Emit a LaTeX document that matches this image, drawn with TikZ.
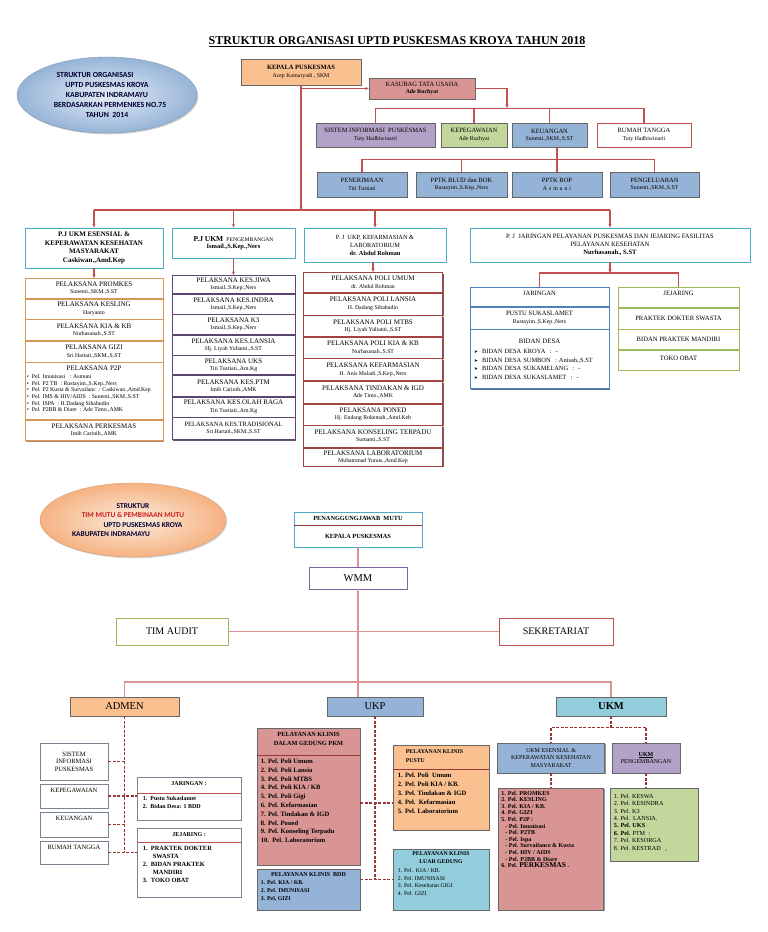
\documentclass[tikz,border=0pt]{standalone}
\usepackage{fontspec}
\setmainfont{Liberation Serif}
\setsansfont{Carlito}
\newfontfamily\simbol{DejaVu Sans}
\usetikzlibrary{arrows.meta,positioning,shapes.geometric,shadows}
\definecolor{garismerah}{RGB}{192,80,77}
\definecolor{merahtua}{RGB}{150,55,53}
\definecolor{merahteks}{RGB}{200,30,30}
\definecolor{oranye}{RGB}{250,192,144}
\definecolor{mawar}{RGB}{217,149,148}
\definecolor{ungu}{RGB}{179,162,199}
\definecolor{hijau}{RGB}{195,214,155}
\definecolor{biru}{RGB}{149,179,215}
\definecolor{toska}{RGB}{146,205,220}
\definecolor{tepitoska}{RGB}{75,172,198}
\definecolor{tepiungu}{RGB}{128,100,162}
\definecolor{tepihijau}{RGB}{155,187,89}
\definecolor{tepibiru}{RGB}{79,129,189}
\definecolor{tepioranye}{RGB}{215,150,90}
\definecolor{tepiabu}{RGB}{120,130,145}
\definecolor{elipsdalam}{RGB}{228,236,246}
\definecolor{elipsluar}{RGB}{150,180,215}
\definecolor{persikdalam}{RGB}{253,236,222}
\definecolor{persikluar}{RGB}{245,178,130}
\newcommand{\uk}[2]{\fontsize{#1}{#2}\selectfont}
\newcommand{\nama}[1]{{\uk{5.8}{6.5}#1}}
\newcommand{\panahkecil}{{\simbol\uk{4.6}{5}➤}}
\tikzset{
  judul/.style={font=\uk{12}{14}\bfseries},
  kotak/.style={draw=black!60, fill=white, align=center, inner sep=1pt,
    line width=0.6pt, font=\uk{6.5}{7.4}},
  ukuran/.style 2 args={minimum width=#1, minimum height=#2},
  bayang/.style={drop shadow={shadow xshift=1.3pt, shadow yshift=-1.3pt,
    fill=#1, opacity=.8}},
  bayang/.default={black!50},
  atas/.style={text depth=#1},
  atas/.default=7pt,
  elips/.style={ellipse, align=center, inner sep=0pt, text=black!80!blue},
  kepkol/.style={kotak, draw=tepitoska, line width=0.9pt, bayang={black!65}},
  kol1/.style={kotak, draw=tepioranye, bayang={tepioranye!75!black},
    minimum width=138, font=\uk{7}{7.2}},
  kol2/.style={kotak, draw=tepiungu!70!black, bayang={tepiungu!50!black},
    minimum width=123, font=\uk{7}{7.2}},
  kol3/.style={kotak, draw=garismerah!85!black, bayang={garismerah!55!black},
    minimum width=139, font=\uk{7}{7.2}},
  kol4a/.style={kotak, draw=tepibiru, bayang={tepibiru!55!black},
    minimum width=139, font=\uk{6.6}{7.2}},
  kol4b/.style={kotak, draw=tepihijau, bayang={tepihijau!55!black},
    minimum width=121, font=\uk{6.6}{7.2}},
  daftar/.style={align=left, inner sep=0pt, anchor=north west},
  garis/.style={draw=garismerah, line width=1.1pt},
  panah/.style={garis, -{Stealth[length=3.5pt, width=3pt]}},
  garismuda/.style={draw=mawar, line width=1.3pt},
  putus/.style={draw=merahtua, line width=1.1pt, dash pattern=on 3pt off 1.5pt}
}
\begin{document}
\begin{tikzpicture}[x=1pt,y=-1pt]
\useasboundingbox[fill=white] (0,0) rectangle (768,932);

% ---------- struktur organisasi ----------
\node[judul] (judul) at (397,42) {\underline{STRUKTUR ORGANISASI UPTD PUSKESMAS KROYA TAHUN 2018}};
\node[elips, minimum width=180, minimum height=76, inner color=elipsdalam, outer color=elipsluar,
  draw=elipsluar!85!black, bayang={black!25}, font=\sffamily\bfseries\uk{7.8}{10}] (elips1) at (107,95)
  {STRUKTUR ORGANISASI\hspace*{24pt}\\UPTD PUSKESMAS KROYA\\KABUPATEN INDRAMAYU\\
   \hspace*{6pt}BERDASARKAN PERMENKES NO.75\\TAHUN\ \ 2014};

\node[kotak, bayang, fill=oranye, ukuran={120}{26}] (kepala) at (301,72)
  {\textbf{KEPALA PUSKESMAS}\\\nama{Acep Komaryadi , SKM}};
\node[kotak, bayang, fill=mawar, ukuran={106}{21}] (kasubag) at (422,88.5)
  {KASUBAG TATA USAHA\\\textbf{\nama{Ade Ruchyat}}};

\node[kotak, bayang, fill=ungu, ukuran={119}{24}] (sip) at (375.5,135)
  {SISTEM INFORMASI\ \ PUSKESMAS\\\nama{Tuty Hadhiwinarti}};
\node[kotak, bayang, fill=hijau, ukuran={66}{24}] (kepeg) at (474,135)
  {KEPEGAWAIAN\\\nama{Ade Ruchyat}};
\node[kotak, bayang, fill=biru, ukuran={75}{24}] (keu) at (549.5,135)
  {KEUANGAN\\\nama{Sunenti.,SKM.,S.ST}};
\node[kotak, bayang, draw=garismerah, ukuran={94}{24}] (rt) at (644,135)
  {RUMAH TANGGA\\\nama{Tuty Hadhiwinarti}};

\node[kotak, bayang, fill=biru, ukuran={90}{25}] (terima) at (362,184.5)
  {PENERIMAAN\\\nama{Titi Tustiati}};
\node[kotak, bayang, fill=biru, ukuran={91}{25}] (blud) at (461.5,184.5)
  {PPTK BLUD dan BOK\\\nama{Rustayim.,S.Kep.,Ners}};
\node[kotak, bayang, fill=biru, ukuran={90}{25}] (bop) at (557,184.5)
  {PPTK BOP\\\nama{A\,\,s\,\,m\,\,u\,\,n\,\,i}};
\node[kotak, bayang, fill=biru, ukuran={89}{25}] (keluar) at (654.5,184.5)
  {PENGELUARAN\\\nama{Sunenti.,SKM.,S.ST}};

\draw[panah] (kepala.south |- kasubag.west) -- (kasubag.west);
\coordinate (tu) at (507,108);
\draw[panah] (kasubag.east) -| (tu);
\draw[garis] (sip.north) -- ++(0,-14) -| (rt.north);
\draw[garis] (kepeg.north) -- ++(0,-14);
\draw[garis] (keu.north) -- ++(0,-14);
\draw[garis] (bop.north |- keu.south) -- (bop.north);
\draw[garis] (terima.north) -- ++(0,-12) -| (keluar.north);
\draw[garis] (blud.north) -- ++(0,-12);

% penanggung jawab
\node[kepkol, ukuran={138}{40}, font=\bfseries\uk{7}{8.4}] (pj1) at (94,248)
  {P.J UKM ESENSIAL \&\\KEPERAWATAN KESEHATAN\\MASYARAKAT\\Caskiwan.,Amd.Kep};
\node[kepkol, ukuran={123}{30}] (pj2) at (233.5,243)
  {{\bfseries\uk{7.5}{8}P.J UKM}\ \ {\uk{5.6}{6}PENGEMBANGAN}\\\textbf{Ismail.,S.Kep.,Ners}};
\node[kepkol, ukuran={142}{34}, font=\uk{6.3}{8}] (pj3) at (375,245)
  {P. J\ \ UKP, KEFARMASIAN \&\\LABORATORIUM\\\textbf{dr. Abdul Rohman}};
\node[kepkol, ukuran={280}{34}, font=\uk{6.6}{8}] (pj4) at (610,245)
  {P. J\ \ JARINGAN PELAYANAN PUSKESMAS DAN JEJARING FASILITAS\\PELAYANAN KESEHATAN\\\textbf{Nurhasanah., S.ST}};

\coordinate (bus1) at (0,210);
\draw[panah] (kepala.south) -- (kepala.south |- bus1);
\draw[garis] (pj1.north |- bus1) -- (pj4.north |- bus1);
\draw[panah] (pj1.north |- bus1) -- (pj1.north);
\draw[panah] (pj2.north |- bus1) -- (pj2.north);
\draw[panah] (pj3.north |- bus1) -- (pj3.north);
\draw[panah] (pj4.north |- bus1) -- (pj4.north);

% kolom 1
\node[kol1, minimum height=20, anchor=north] (promkes) at (94,278) {PELAKSANA PROMKES\\\nama{Sunenti.,SKM.,S.ST}};
\node[kol1, minimum height=20, below=0pt of promkes] (kesling) {PELAKSANA KESLING\\\nama{Haryanto}};
\node[kol1, minimum height=21, below=0pt of kesling] (kia1) {PELAKSANA KIA \& KB\\\nama{Nurhasanah.,S.ST}};
\node[kol1, minimum height=21, below=0pt of kia1] (gizi) {PELAKSANA GIZI\\\nama{Sri Hartati.,SKM.,S.ST}};
\node[kol1, minimum height=57, below=0pt of gizi] (p2p) {};
\node[font=\uk{7}{7.2}, inner sep=0pt, anchor=north] (p2pjudul) at ([yshift=-3.5pt]p2p.north) {PELAKSANA P2P};
\node[daftar, font=\uk{5.8}{6.6}] (p2pisi) at ([xshift=2pt,yshift=-12pt]p2p.north west)
  {\textbullet\ \ Pel. Imunisasi\ \ \ : Asmuni\\
   \textbullet\ \ Pel. P2 TB\ \ : Rustayim.,S.Kep.,Ners\\
   \textbullet\ \ Pel. P2 Kusta \& Survailanc\ \ : Caskiwan.,Amd.Kep\\
   \textbullet\ \ Pel. IMS \& HIV/AIDS\ \ : Sunenti.,SKM.,S.ST\\
   \textbullet\ \ Pel. ISPA\ \ : H.Dadang Sihabudin\\
   \textbullet\ \ Pel. P2BB \& Diare\ \ : Ade Timo.,AMK};
\node[kol1, minimum height=20, below=0pt of p2p] (perkesmas) {PELAKSANA PERKESMAS\\\nama{Imih Carinih.,AMK}};
\draw[panah] (pj1.south) -- (promkes.north);

% kolom 2
\node[kol2, minimum height=18, anchor=north] (jiwa) at (233.5,275) {PELAKSANA KES.JIWA\\\nama{Ismail.,S.Kep.,Ners}};
\node[kol2, minimum height=20, below=0pt of jiwa] (indra) {PELAKSANA KES.INDRA\\\nama{Ismail.,S.Kep.,Ners}};
\node[kol2, minimum height=20, below=0pt of indra] (k3) {PELAKSANA K3\\\nama{Ismail.,S.Kep.,Ners}};
\node[kol2, minimum height=20, below=0pt of k3] (lansia) {PELAKSANA KES.LANSIA\\\nama{Hj. Liyah Yulianti.,S.ST}};
\node[kol2, minimum height=19, below=0pt of lansia] (uks) {PELAKSANA UKS\\\nama{Titi Tustiati.,Am.Kg}};
\node[kol2, minimum height=21, below=0pt of uks] (ptm) {PELAKSANA KES.PTM\\\nama{Imih Carinih.,AMK}};
\node[kol2, minimum height=20, below=0pt of ptm] (olahraga) {PELAKSANA KES.OLAH RAGA\\\nama{Titi Tustiati.,Am.Kg}};
\node[kol2, minimum height=22, below=0pt of olahraga] (tradisional) {{\uk{6.5}{7}PELAKSANA KES.TRADISIONAL}\\\nama{Sri Hartati.,SKM.,S.ST}};
\draw[panah] (pj2.south) -- (jiwa.north);

% kolom 3
\node[kol3, minimum height=20, anchor=north] (poliumum) at (373,272) {PELAKSANA POLI UMUM\\\nama{dr. Abdul Rohman}};
\node[kol3, minimum height=22, below=0pt of poliumum] (polilansia) {PELAKSANA POLI LANSIA\\\nama{H. Dadang Sihabudin}};
\node[kol3, minimum height=21, below=0pt of polilansia] (mtbs) {PELAKSANA POLI MTBS\\\nama{Hj. Liyah Yulianti.,S.ST}};
\node[kol3, minimum height=21, below=0pt of mtbs] (polikia) {PELAKSANA POLI KIA \& KB\\\nama{Nurhasanah.,S.ST}};
\node[kol3, minimum height=22, below=0pt of polikia] (farmasi) {PELAKSANA KEFARMASIAN\\\nama{H. Anis Maladi.,S.Kep.,Ners}};
\node[kol3, minimum height=22, below=0pt of farmasi] (tindakan) {PELAKSANA TINDAKAN \& IGD\\\nama{Ade Timo.,AMK}};
\node[kol3, minimum height=21, below=0pt of tindakan] (poned) {PELAKSANA PONED\\\nama{Hj. Endang Rokemah.,Amd.Keb}};
\node[kol3, minimum height=22, below=0pt of poned] (konseling) {PELAKSANA KONSELING TERPADU\\\nama{Sumanti.,S.ST}};
\node[kol3, minimum height=18, below=0pt of konseling] (lab) {PELAKSANA LABORATORIUM\\\nama{Muhammad Yunus.,Amd.Kep}};
\draw[panah] (poliumum.north |- pj3.south) -- (poliumum.north);

% kolom 4
\node[kol4a, minimum height=19, atas, anchor=north] (jaringan) at (539.5,287) {JARINGAN};
\node[kol4a, minimum height=22, below=0pt of jaringan] (pustu) {PUSTU SUKASLAMET\\\nama{Rustayim.,S.Kep.,Ners}};
\node[kol4a, minimum height=59, below=0pt of pustu, text width=131, align=left, font=\uk{6.4}{8.6}] (bidan)
  {\makebox[131pt]{\uk{6.8}{8}BIDAN DESA}\\[2pt]
   \panahkecil\ \ BIDAN DESA KROYA\ \ :\ \ -\\
   \panahkecil\ \ BIDAN DESA SUMBON\ \ : Anisah.,S.ST\\
   \panahkecil\ \ BIDAN DESA SUKAMELANG\ \ :\ \ -\\
   \panahkecil\ \ BIDAN DESA SUKASLAMET\ \ :\ \ -};
\node[kol4b, minimum height=20, atas, anchor=north] (jejaring) at (678.5,287) {JEJARING};
\node[kol4b, minimum height=21, below=0pt of jejaring] (dokter) {PRAKTEK DOKTER SWASTA};
\node[kol4b, minimum height=20, below=0pt of dokter] (bpm) {BIDAN PRAKTEK MANDIRI};
\node[kol4b, minimum height=20, atas=3pt, below=0pt of bpm] (toko) {TOKO OBAT};
\coordinate (bus4) at (0,273);
\draw[panah] (pj4.south) -- (pj4.south |- bus4);
\draw[garis] (jaringan.north) -- (jaringan.north |- bus4) -- (jejaring.north |- bus4) -- (jejaring.north);

% ---------- tim mutu ----------
\node[elips, minimum width=186, minimum height=74, inner color=persikdalam, outer color=persikluar,
  draw=persikluar!90!black, bayang={black!20}, font=\sffamily\bfseries\uk{7.4}{9.4}] (elips2) at (133,520)
  {STRUKTUR\\\textcolor{merahteks}{TIM MUTU \& PEMBINAAN MUTU}\\\hspace*{20pt}UPTD PUSKESMAS KROYA\\
   KABUPATEN INDRAMAYU\hspace*{44pt}};

\node[kotak, draw=tepitoska, line width=0.9pt, bayang={black!55}, ukuran={128}{35}] (pj) at (358,529.5) {};
\node[font=\bfseries\uk{6.3}{7}, inner sep=0pt] (pjmutu) at ([yshift=-6.5pt]pj.north) {PENANGGUNGJAWAB\ \ MUTU};
\node[font=\bfseries\uk{6.3}{7}, inner sep=0pt] (pjkepala) at ([yshift=11pt]pj.south) {KEPALA PUSKESMAS};
\draw[draw=merahtua, line width=1pt] (pj.west |- 0,525) -- (pj.east |- 0,525);

\node[kotak, draw=tepiungu, bayang={black!55}, ukuran={98}{22}, font=\uk{10.5}{12}] (wmm) at (358,578) {WMM};
\node[kotak, draw=tepihijau, line width=0.9pt, bayang={black!55}, ukuran={112}{27}, font=\uk{10}{12}] (audit) at (172,631.5) {TIM AUDIT};
\node[kotak, draw=garismerah, line width=0.9pt, bayang={black!55}, ukuran={114}{27}, font=\uk{10}{12}] (sekretariat) at (556,631.5) {SEKRETARIAT};

\node[kotak, bayang, fill=oranye, ukuran={109}{19}, font=\uk{10.5}{12}] (admen) at (124.5,706.5) {ADMEN};
\node[kotak, bayang, fill=biru, ukuran={96}{19}, font=\uk{10.5}{12}] (ukp) at (375,706.5) {UKP};
\node[kotak, bayang, fill=toska, ukuran={110}{19}, font=\bfseries\uk{10.5}{12}] (ukm) at (611,706.5) {UKM};

\coordinate (bus2) at (0,682);
\draw[garismuda] (pj.south) -- (wmm.north);
\draw[garismuda] (wmm.south) -- (wmm.south |- ukp.north);
\draw[garismuda] (audit.east) -- (sekretariat.west);
\draw[garismuda] (admen.north) -- (admen.north |- bus2) -- (ukm.north |- bus2) -- (ukm.north);

% admen
\node[kotak, draw=tepiabu, bayang={black!45}, ukuran={68}{37}, font=\uk{6.5}{7.6}] (sim2) at (74,761.5) {SISTEM\\INFORMASI\\PUSKESMAS};
\node[kotak, draw=tepiabu, bayang={black!45}, ukuran={68}{24}, atas=12pt] (kepeg2) at (74,796) {KEPEGAWAIAN};
\node[kotak, draw=tepiabu, bayang={black!45}, ukuran={68}{25}, atas=12pt] (keu2) at (74,824.5) {KEUANGAN};
\node[kotak, draw=tepiabu, bayang={black!45}, ukuran={68}{23}, atas=11pt] (rt2) at (74,852.5) {RUMAH TANGGA};

\node[kotak, draw=tepiabu, bayang={black!50}, ukuran={104}{43}] (jar2) at (189,798.5) {};
\node[font=\bfseries\uk{6}{7}, inner sep=0pt] (jar2judul) at ([yshift=-7pt]jar2.north) {JARINGAN :};
\draw[draw=garismerah, line width=0.8pt] (jar2.west |- 0,793) -- (jar2.east |- 0,793);
\node[daftar, font=\bfseries\uk{6}{8}] (jar2isi) at ([xshift=6pt,yshift=-19pt]jar2.north west)
  {1.\ \ Pustu Sukaslamet\\2.\ \ Bidan Desa: 1 BDD};
\node[kotak, draw=tepiabu, bayang={black!50}, ukuran={104}{69}] (jej2) at (189,862.5) {};
\node[font=\bfseries\uk{6}{7}, inner sep=0pt] (jej2judul) at ([yshift=-7pt]jej2.north) {JEJARING :};
\draw[draw=garismerah, line width=0.8pt] (jej2.west |- 0,842) -- (jej2.east |- 0,842);
\node[daftar, font=\bfseries\uk{6.4}{8}] (jej2isi) at ([xshift=6pt,yshift=-18pt]jej2.north west)
  {1.\ \ PRAKTEK DOKTER\\\hspace*{10pt}SWASTA\\2.\ \ BIDAN PRAKTEK\\\hspace*{10pt}MANDIRI\\3.\ \ TOKO OBAT};

\draw[putus] (admen.south) -- ++(0,137);
\draw[putus] (sim2.east) -- (sim2.east -| admen.south);
\draw[putus] (kepeg2.east) -- (kepeg2.east -| jar2.west);
\draw[putus] (keu2.east) -- (keu2.east -| admen.south);
\draw[putus] (rt2.east) -- (rt2.east -| jej2.west);

% ukp
\node[kotak, bayang, fill=mawar, ukuran={103}{137}] (dalam) at (308.5,796.5) {};
\node[font=\bfseries\uk{6.3}{9}, align=center, inner sep=0pt, anchor=north] (dalamjudul) at ([yshift=-4pt]dalam.north)
  {PELAYANAN KLINIS\\DALAM GEDUNG PKM};
\draw[draw=merahtua, line width=0.8pt] (dalam.west |- 0,755) -- (dalam.east |- 0,755);
\node[daftar, font=\bfseries\uk{6.6}{8.8}] (dalamisi) at ([xshift=4pt,yshift=-31pt]dalam.north west)
  {1. Pel. Poli Umum\\2. Pel. Poli Lansia\\3. Pel. Poli MTBS\\4. Pel. Poli KIA / KB\\5. Pel. Poli Gigi\\
   6. Pel. Kefarmasian\\7. Pel. Tindakan \& IGD\\8. Pel. Poned\\9. Pel. Konseling Terpadu\\10.\ \ Pel. Laboratorium};
\node[kotak, bayang, fill=biru, ukuran={103}{41}] (bdd) at (308.5,889.5) {};
\node[font=\bfseries\uk{6}{7}, inner sep=0pt, anchor=north] (bddjudul) at ([yshift=-4pt]bdd.north) {PELAYANAN KLINIS\ \ BDD};
\node[daftar, font=\bfseries\uk{5.8}{7.6}] (bddisi) at ([xshift=4pt,yshift=-12pt]bdd.north west)
  {1. Pel. KIA / KB.\\2. Pel. IMUNISASI\\3. Pel, GIZI};

\node[kotak, bayang, fill=oranye, ukuran={96}{85}] (pustu2) at (441,787.5) {};
\node[daftar, font=\bfseries\uk{5.8}{8.5}] (pustujudul) at ([xshift=13pt,yshift=-5pt]pustu2.north west) {PELAYANAN KLINIS\\PUSTU};
\draw[draw=merahtua, line width=0.8pt] (pustu2.west |- 0,769) -- (pustu2.east |- 0,769);
\node[daftar, font=\bfseries\uk{6.6}{9}] (pustuisi) at ([xshift=5pt,yshift=-28pt]pustu2.north west)
  {1. Pel. Poli\ \ Umum\\2. Pel. Poli KIA / KB.\\3. Pel. Tindakan \& IGD\\4. Pel.\ \ Kefarmasian\\5. Pel. Laboratorium};
\node[kotak, bayang, fill=toska, ukuran={96}{61}] (luar) at (441,879.5) {};
\node[font=\bfseries\uk{5.8}{8}, align=center, inner sep=0pt, anchor=north] (luarjudul) at ([yshift=-3pt]luar.north)
  {PELAYANAN KLINIS\\LUAR GEDUNG};
\node[daftar, font=\uk{5.8}{7.5}] (luarisi) at ([xshift=5pt,yshift=-20pt]luar.north west)
  {1. Pel.\ \ KIA / KB.\\2. Pel. IMUNISASI\\3. Pel. Kesehatan GIGI\\4. Pel. GIZI};

\draw[putus] (ukp.south) -- (ukp.south |- luar.west);
\draw[putus] (dalam.east |- 0,803) -- (pustu2.west |- 0,803);
\draw[putus] (bdd.east |- luar.west) -- (luar.west);

% ukm
\node[kotak, bayang, fill=biru, ukuran={107}{30}, font=\uk{6}{7.5}] (esensial) at (551,758)
  {UKM ESENSIAL \&\\KEPERAWATAN KESEHATAN\\MASYARAKAT};
\node[kotak, bayang, fill=ungu, ukuran={68}{30}, font=\uk{6}{7.5}] (kembang) at (646,758)
  {\underline{\textbf{UKM}}\\PENGEMBANGAN};
\node[kotak, bayang, fill=mawar, ukuran={105}{122}] (merah) at (551,849) {};
\node[daftar, font=\bfseries\uk{6}{6.6}] (merahisi) at ([xshift=3pt,yshift=-3pt]merah.north west)
  {1. Pel. PROMKES\\2. Pel. KESLING\\3. Pel. KIA / KB.\\4. Pel. GIZI\\5. Pel. P2P :\\
   \hspace*{4pt}- Pel. Imunisasi\\\hspace*{4pt}- Pel. P2TB\\\hspace*{4pt}- Pel. Ispa\\
   \hspace*{4pt}- Pel. Survailance \& Kusta\\\hspace*{4pt}- Pel. HIV / AIDS\\\hspace*{4pt}- Pel. P2BB \& Diare\\
   6. Pel. {\uk{7.5}{6.6}PERKESMAS} .};
\node[kotak, bayang, fill=hijau, ukuran={88}{73}] (hijaubox) at (654,824.5) {};
\node[daftar, font=\uk{6.2}{7.4}] (hijauisi) at ([xshift=4pt,yshift=-6pt]hijaubox.north west)
  {1. Pel. KESWA\\2. Pel. KESINDRA\\3. Pel. K3\\4. Pel.\ \ LANSIA.\\\textbf{5. Pel. UKS}\\
   \textbf{6. Pel.} PTM\ \ :\\7. Pel. KESORGA\\8. Pel. KESTRAD\ \ \ ,};

\draw[putus] (ukm.south) -- ++(0,11) -| (esensial.north);
\draw[putus] (ukm.south) ++(0,11) -| (kembang.north);
\draw[putus] (esensial.south) -- (merah.north);
\draw[putus] (kembang.south) -- (kembang.south |- hijaubox.north);
\end{tikzpicture}
\end{document}
